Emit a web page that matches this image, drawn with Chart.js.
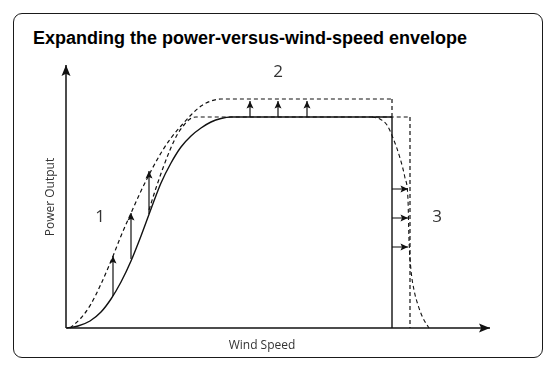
<!DOCTYPE html>
<html><head><meta charset="utf-8">
<script src="https://cdn.jsdelivr.net/npm/chart.js@4"></script>
<style>
html,body{margin:0;padding:0;background:#fff;}
#wrap{position:relative;width:556px;height:371px;overflow:hidden}
#frame{position:absolute;left:13px;top:13px;width:528px;height:343px;border:1.5px solid #1a1a1a;border-radius:9px;}
#title{position:absolute;left:33px;top:29px;font:bold 18px "Liberation Sans",Arial,sans-serif;line-height:1;color:#000;white-space:nowrap}
canvas{position:absolute;left:0;top:0}
</style></head>
<body>
<div id="wrap">
<div id="frame"></div>
<div id="title">Expanding the power-versus-wind-speed envelope</div>
<canvas id="c" width="556" height="371"></canvas>
</div>
<script>
// Axis extents (arbitrary units: wind speed / power output)
const xAxisLine = [[0,0],[424,0]];
const yAxisLine = [[0,0],[0,263]];
// Original power curve
const baseCurve = [[1,0],[12,2],[24,7],[35,16],[45,29],[55,46],[65,67],[75,92],[85,119],[95,145],[105,165],[115,181],[125,192],[135,200],[145,206],[155,209.5],[165,211],[175,211],[326,211]];
const baseCutOut = [[326,211],[326,0]];
// 1+2: improved low-speed performance & higher rated power
const upperCurve = [[4,0],[15,10],[25,24],[35,44],[45,67],[55,92],[65,115],[75,137],[85,157],[95,175],[105,190],[115,202],[125,213],[135,222],[145,227],[155,229],[170,229],[326,229]];
const upperCutOut = [[326,229],[326,211]];
// Earlier rated power at same level, extended cut-out
const innerCurve = [[83,118],[90,140],[97,160],[104,178],[111,193],[118,203],[124,209],[130,211],[344,211]];
const extendedCutOut = [[344,211],[344,0]];
// 3: soft cut-out
const softCutOut = [[306,211],[314,209],[321,203],[327,190],[334,170],[339,150],[342,128],[343,88],[345,58],[348,38],[352,23],[357,10],[363,0]];
// Arrows: [x, from, to] vertical; [y, from, to] horizontal
const upArrows = [[47,32,72],[65,69,115],[83,114,157],[184,211,227],[212,211,227],[241,211,227]];
const rightArrows = [[139,326,342],[110,326,342],[81,326,342]];
// Annotations
const noteLabels = ['1','2','3'];
const noteX = [34,212,371];
const noteY = [111,256,111];
const xTitle = 'Wind Speed';
const yTitle = 'Power Output';

const P = a => a.map(([x,y]) => ({x, y}));
const ink = '#111';
const ds = [];
function line(pts, opt){ ds.push(Object.assign({data:P(pts), showLine:true, pointRadius:0, borderColor:ink, borderWidth:1.3, tension:0, fill:false}, opt||{})); }

line(xAxisLine, {arrow:'axis', borderWidth:1.5});
line(yAxisLine, {arrow:'axis', borderWidth:1.5});
line(baseCurve, {cubicInterpolationMode:'monotone', borderWidth:1.4});
line(baseCutOut, {borderWidth:1.4});
line(upperCurve, {cubicInterpolationMode:'monotone', borderDash:[4,3], borderWidth:1.2});
line(upperCutOut, {borderDash:[4,3], borderWidth:1.2});
line(innerCurve, {cubicInterpolationMode:'monotone', borderDash:[4,3], borderWidth:1.2});
line(extendedCutOut, {borderDash:[4,3], borderWidth:1.2});
line(softCutOut, {cubicInterpolationMode:'monotone', borderDash:[4,3], borderWidth:1.1});
upArrows.forEach(([x,a,b]) => line([[x,a],[x,b]], {arrow:'small', borderWidth:1.2}));
rightArrows.forEach(([y,a,b]) => line([[a,y],[b,y]], {arrow:'small', borderWidth:1.2, borderColor:'#333'}));

const decor = {
  id:'decor',
  afterDatasetsDraw(chart){
    const c = chart.ctx, sx = chart.scales.x, sy = chart.scales.y;
    chart.data.datasets.forEach((d,i) => {
      if(!d.arrow) return;
      const pts = chart.getDatasetMeta(i).data;
      const p1 = pts[pts.length-2], p2 = pts[pts.length-1];
      const ang = Math.atan2(p2.y-p1.y, p2.x-p1.x);
      const L = d.arrow==='axis' ? 11 : 7.5, W = d.arrow==='axis' ? 4.5 : 3.5;
      c.save(); c.translate(p2.x,p2.y); c.rotate(ang);
      c.beginPath(); c.moveTo(0,0); c.lineTo(-L,-W); c.lineTo(-L*0.8,0); c.lineTo(-L,W); c.closePath();
      c.fillStyle = ink; c.fill(); c.restore();
    });
    c.save();
    c.fillStyle = '#333'; c.textAlign='center'; c.textBaseline='middle';
    c.font = '17px "Open Sans", sans-serif';
    noteLabels.forEach((t,k) => c.fillText(t, sx.getPixelForValue(noteX[k]), sy.getPixelForValue(noteY[k])));
    c.font = '12px "Open Sans", sans-serif';
    c.fillText(xTitle, sx.getPixelForValue(196), sy.getPixelForValue(-18));
    c.translate(sx.getPixelForValue(-15), sy.getPixelForValue(131));
    c.rotate(-Math.PI/2);
    c.fillText(yTitle, 0, 0);
    c.restore();
  }
};

new Chart(document.getElementById('c'), {
  type:'scatter',
  data:{datasets:ds},
  options:{
    responsive:false, animation:false, clip:false,
    layout:{padding:{left:66,right:66,top:65,bottom:43}},
    plugins:{legend:{display:false}, tooltip:{enabled:false}, title:{display:false}},
    scales:{
      x:{type:'linear', min:0, max:424, display:false},
      y:{type:'linear', min:0, max:263, display:false}
    },
    events:[]
  },
  plugins:[decor]
});
</script>
</body></html>
